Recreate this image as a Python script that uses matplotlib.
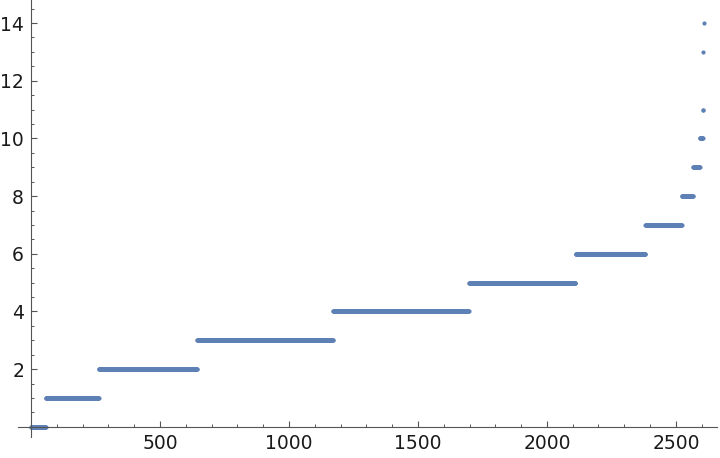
import numpy as np
import matplotlib
matplotlib.use("Agg")
import matplotlib.pyplot as plt
from matplotlib.ticker import FixedLocator

# sorted integer values, run lengths
values = [0, 1, 2, 3, 4, 5, 6, 7, 8, 9, 10, 11, 13, 14]
counts = [57, 205, 381, 527, 527, 413, 271, 141, 44, 26, 12, 2, 1, 1]

y = np.repeat(values, counts)
x = np.arange(1, len(y) + 1)

fig = plt.figure(figsize=(7.2, 4.58), dpi=100)
ax = fig.add_axes([0.0, 0.0, 1.0, 1.0])

ax.plot(x, y, "o", ms=3.0, mec="none", color="#5E81B5")

ax.set_xlim(-120, 2671)
ax.set_ylim(-1.08, 14.8)

axc = "#555555"
for s in ("top", "right"):
    ax.spines[s].set_visible(False)
ax.spines["left"].set_position(("data", 0))
ax.spines["bottom"].set_position(("data", 0))
ax.spines["left"].set_bounds(-0.35, 14.8)
ax.spines["bottom"].set_bounds(-52, 2659)
ax.spines["left"].set_color(axc)
ax.spines["bottom"].set_color(axc)

ax.xaxis.set_major_locator(FixedLocator([500, 1000, 1500, 2000, 2500]))
ax.xaxis.set_minor_locator(FixedLocator([v for v in range(100, 2700, 100) if v % 500]))
ax.yaxis.set_major_locator(FixedLocator([2, 4, 6, 8, 10, 12, 14]))
ax.yaxis.set_minor_locator(FixedLocator([v / 2 for v in range(1, 30) if v % 4]))
ax.tick_params(which="both", direction="in", color=axc, labelsize=13.5, labelcolor="#1a1a1a")
ax.tick_params(which="major", length=4.5, width=0.8, pad=5)
ax.tick_params(which="minor", length=2.5, width=0.7)

fig.savefig("out.png", dpi=100)
